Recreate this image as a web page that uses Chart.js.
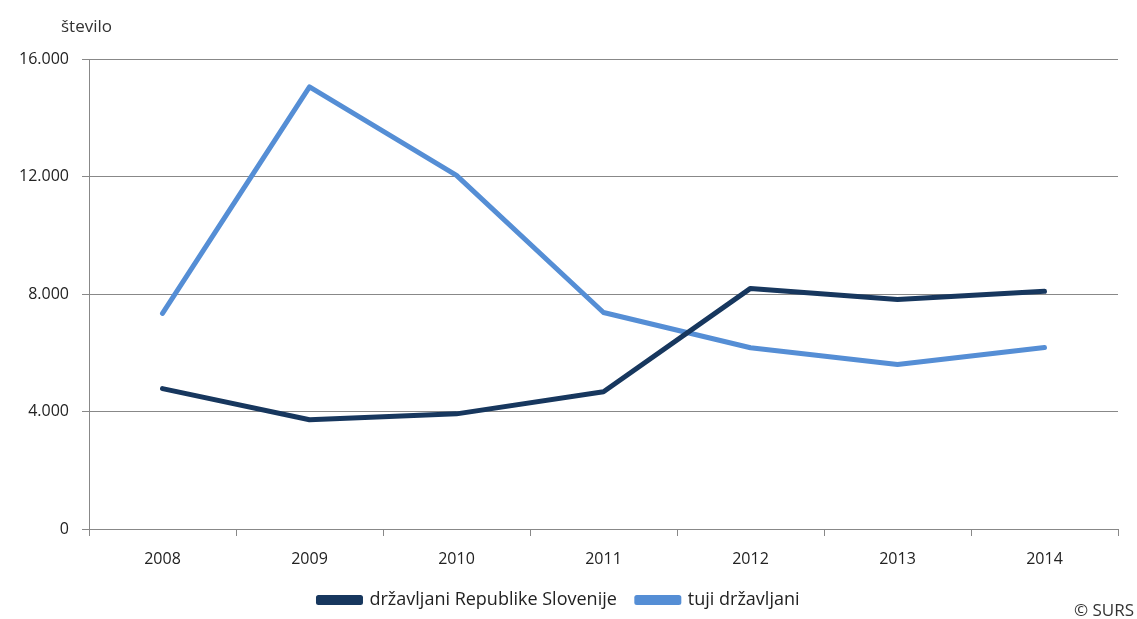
<!DOCTYPE html>
<html>
<head>
<meta charset="utf-8">
<script src="https://cdn.jsdelivr.net/npm/chart.js@4"></script>
<style>
  html, body { margin: 0; padding: 0; background: #fff; }
  #wrap { width: 1137px; height: 619px; position: relative; }
</style>
</head>
<body>
<div id="wrap"><canvas id="grafikon"></canvas></div>
<script>
// Podatki (odčitani s slike)
const leta = ['2008', '2009', '2010', '2011', '2012', '2013', '2014'];
const drzavljaniRS = [4780, 3720, 3920, 4670, 8190, 7810, 8090];
const tujiDrzavljani = [7340, 15050, 12040, 7370, 6170, 5600, 6180];
const yTicks = [0, 4000, 8000, 12000, 16000];

const pisava = "'Open Sans', 'Noto Sans', sans-serif";

// Dodatna besedila: oznaka osi in vir
const besedila = {
  id: 'besedila',
  afterDraw(chart) {
    const c = chart.ctx;
    c.save();
    c.fillStyle = '#333';
    c.font = '17px ' + pisava;
    c.textBaseline = 'middle';
    c.textAlign = 'left';
    c.fillText('število', 61, 27);
    c.textAlign = 'right';
    c.fillText('© SURS', 1134, 611);
    c.restore();
  }
};

const ctx = document.getElementById('grafikon').getContext('2d');
new Chart(ctx, {
  type: 'line',
  data: {
    labels: leta,
    datasets: [
      {
        label: 'državljani Republike Slovenije',
        data: drzavljaniRS,
        borderColor: '#17375E',
        backgroundColor: '#17375E',
        borderWidth: 5,
        borderCapStyle: 'round',
        borderJoinStyle: 'round',
        pointRadius: 0,
        tension: 0
      },
      {
        label: 'tuji državljani',
        data: tujiDrzavljani,
        borderColor: '#558ED5',
        backgroundColor: '#558ED5',
        borderWidth: 5,
        borderCapStyle: 'round',
        borderJoinStyle: 'round',
        pointRadius: 0,
        tension: 0
      }
    ]
  },
  options: {
    responsive: true,
    maintainAspectRatio: false,
    animation: false,
    layout: { padding: { top: 59, right: 19, bottom: 0, left: 0 } },
    plugins: {
      legend: {
        position: 'bottom',
        labels: {
          boxWidth: 42,
          boxHeight: 5,
          padding: 20,
          color: '#222',
          font: { family: pisava, size: 18 }
        }
      },
      tooltip: { enabled: false }
    },
    scales: {
      x: {
        offset: true,
        grid: {
          offset: true,
          drawOnChartArea: false,
          color: '#888',
          tickLength: 7
        },
        border: { color: '#888' },
        ticks: {
          color: '#222',
          padding: 14,
          font: { family: pisava, size: 16 },
          maxRotation: 0
        },
        afterFit(scale) { scale.height = 42; }
      },
      y: {
        min: 0,
        max: 16000,
        afterBuildTicks(scale) {
          scale.ticks = yTicks.map(v => ({ value: v }));
        },
        grid: {
          color: '#888',
          tickLength: 7
        },
        border: { color: '#888' },
        ticks: {
          color: '#222',
          padding: 13,
          font: { family: pisava, size: 16 },
          callback: v => v.toLocaleString('de-DE')
        },
        afterFit(scale) { scale.width = 89; }
      }
    }
  },
  plugins: [besedila]
});
</script>
</body>
</html>
